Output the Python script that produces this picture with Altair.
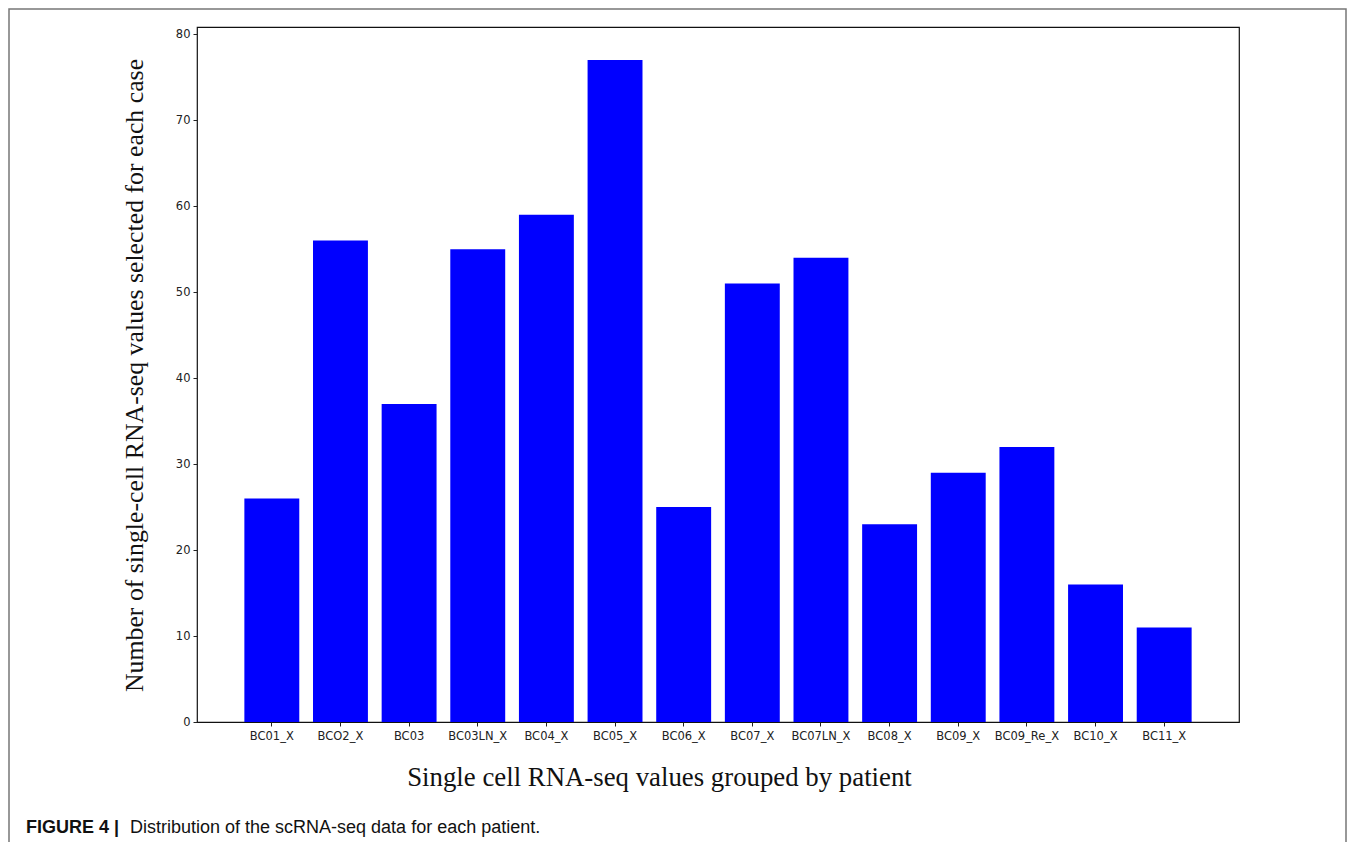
import altair as alt
import pandas as pd

patients = ["BC01_X", "BCO2_X", "BC03", "BC03LN_X", "BC04_X", "BC05_X", "BC06_X",
            "BC07_X", "BC07LN_X", "BC08_X", "BC09_X", "BC09_Re_X", "BC10_X", "BC11_X"]
counts = [26, 56, 37, 55, 59, 77, 25, 51, 54, 23, 29, 32, 16, 11]
y_ticks = [0, 10, 20, 30, 40, 50, 60, 70, 80]

x_title = "Single cell RNA-seq values grouped by patient"
y_title = "Number of single-cell RNA-seq values selected for each case"
caption_bold = "FIGURE 4 |"
caption_rest = "Distribution of the scRNA-seq data for each patient."

df = pd.DataFrame({"patient": patients, "count": counts})

bars = alt.Chart(df).mark_bar(color="#0000ff").encode(
    x=alt.X("patient:N", sort=patients,
            scale=alt.Scale(paddingInner=0.2, paddingOuter=0.69),
            axis=alt.Axis(title=x_title, labelAngle=0, labelFont="DejaVu Sans",
                          labelFontSize=11.5, labelColor="#222", tickColor="#222",
                          tickSize=4, labelPadding=4, domain=False,
                          titleFont="Liberation Serif", titleFontSize=26.8,
                          titleFontWeight="normal", titleColor="#111",
                          titleX=462, titleY=55, titleBaseline="middle",
                          titleAlign="center")),
    y=alt.Y("count:Q", scale=alt.Scale(domain=[0, 80.85], nice=False),
            axis=alt.Axis(title=y_title, values=y_ticks, grid=False,
                          labelFont="DejaVu Sans", labelFontSize=11.5,
                          labelColor="#222", tickColor="#222", tickSize=4,
                          labelPadding=3, domain=False,
                          titleFont="Liberation Serif", titleFontSize=25.8,
                          titleFontWeight="normal", titleColor="#111",
                          titleX=-63, titleY=348, titleAngle=-90,
                          titleBaseline="middle", titleAlign="center")),
)

cap1 = alt.Chart(pd.DataFrame({"t": [caption_bold]})).mark_text(
    align="left", baseline="alphabetic", font="Liberation Sans", fontSize=18,
    fontWeight="bold", color="#111"
).encode(x=alt.value(-171), y=alt.value(806), text="t:N")

cap2 = alt.Chart(pd.DataFrame({"t": [caption_rest]})).mark_text(
    align="left", baseline="alphabetic", font="Liberation Sans", fontSize=18,
    color="#111"
).encode(x=alt.value(-67), y=alt.value(806), text="t:N")

border = alt.Chart(pd.DataFrame({"a": [0]})).mark_rect(
    fill=None, stroke="#777", strokeWidth=1.5
).encode(x=alt.value(-188), x2=alt.value(1149), y=alt.value(-18), y2=alt.value(900))

chart = alt.layer(border, bars, cap1, cap2).properties(
    width=1042, height=695,
    autosize=alt.AutoSizeParams(type="none"),
    padding={"left": 189, "top": 19, "right": 108, "bottom": 120},
).configure_view(stroke="#111", strokeWidth=1.2)

chart.save("out.html", embed_options={"renderer": "svg", "actions": False})
